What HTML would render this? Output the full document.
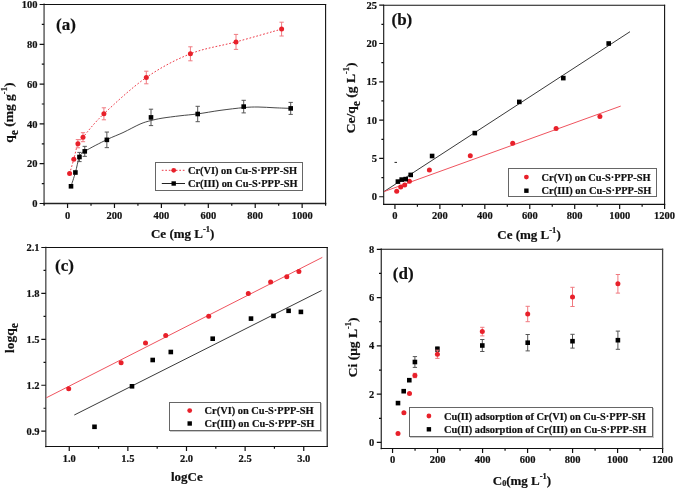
<!DOCTYPE html>
<html><head><meta charset="utf-8"><style>
html,body{margin:0;padding:0;background:#fff;width:675px;height:489px;overflow:hidden}
svg{display:block;will-change:transform}
text{font-family:"Liberation Serif", serif;font-weight:bold;fill:#111;stroke:#111;stroke-width:0.2px}
</style></head><body>
<svg width="675" height="489" viewBox="0 0 675 489">
<rect width="675" height="489" fill="#fff"/>
<path d="M44.1 4.5V203.5" stroke="#7a7a7a" stroke-width="1.8" stroke-linecap="square"/>
<path d="M44.1 203.5H325.6" stroke="#222" stroke-width="1.3" stroke-linecap="square"/>
<path d="M44.1 4.5H325.6" stroke="#111" stroke-width="1.1" stroke-linecap="square"/>
<path d="M325.6 4.5V203.5" stroke="#111" stroke-width="1.1" stroke-linecap="square"/>
<path d="M67.56 203.5v4.5M114.47 203.5v4.5M161.39 203.5v4.5M208.31 203.5v4.5M255.22 203.5v4.5M302.14 203.5v4.5M44.1 203.5h-4.5M44.1 163.7h-4.5M44.1 123.9h-4.5M44.1 84.1h-4.5M44.1 44.3h-4.5M44.1 4.5h-4.5" stroke="#111" stroke-width="1.2"/>
<path d="M44.1 203.5v2.3M91.02 203.5v2.3M137.93 203.5v2.3M184.85 203.5v2.3M231.77 203.5v2.3M278.68 203.5v2.3M325.6 203.5v2.3M44.1 183.6h-2.3M44.1 143.8h-2.3M44.1 104h-2.3M44.1 64.2h-2.3M44.1 24.4h-2.3" stroke="#111" stroke-width="1.2"/>
<text x="67.56" y="218.8" text-anchor="middle" font-size="10.5">0</text>
<text x="114.47" y="218.8" text-anchor="middle" font-size="10.5">200</text>
<text x="161.39" y="218.8" text-anchor="middle" font-size="10.5">400</text>
<text x="208.31" y="218.8" text-anchor="middle" font-size="10.5">600</text>
<text x="255.22" y="218.8" text-anchor="middle" font-size="10.5">800</text>
<text x="302.14" y="218.8" text-anchor="middle" font-size="10.5">1000</text>
<text x="37.5" y="207.1" text-anchor="end" font-size="10.5">0</text>
<text x="37.5" y="167.3" text-anchor="end" font-size="10.5">20</text>
<text x="37.5" y="127.5" text-anchor="end" font-size="10.5">40</text>
<text x="37.5" y="87.7" text-anchor="end" font-size="10.5">60</text>
<text x="37.5" y="47.9" text-anchor="end" font-size="10.5">80</text>
<text x="37.5" y="8.1" text-anchor="end" font-size="10.5">100</text>
<path d="M71 186.3C71.73 184 73.99 177.38 75.4 172.5C76.81 167.62 77.89 160.53 79.45 157C81.01 153.47 80.17 154.25 84.75 151.35C89.33 148.45 100.53 142.72 106.9 139.6C113.28 136.47 117.48 135.18 123 132.6C128.52 130.02 135.37 126.1 140 124.1C144.63 122.1 147.13 121.58 150.8 120.6C154.47 119.62 157.13 119 162 118.2C166.87 117.4 174.05 116.52 180 115.8C185.95 115.08 191.03 114.8 197.7 113.9C204.37 113 212.33 111.45 220 110.4C227.67 109.35 237.37 108.17 243.7 107.6C250.03 107.03 252.78 106.97 258 107C263.22 107.03 269.55 107.57 275 107.8C280.45 108.03 288.08 108.3 290.7 108.4" fill="none" stroke="#333" stroke-width="0.9"/>
<path d="M69.6 173.6C70.3 171.2 72.42 164.18 73.8 159.2C75.18 154.22 76.37 147.37 77.9 143.7C79.43 140.03 78.67 142.18 83 137.2C87.33 132.22 93.35 123.75 103.9 113.8C114.45 103.85 131.88 87.5 146.3 77.5C160.72 67.5 175.45 59.73 190.4 53.8C205.35 47.87 220.8 46.02 236 41.9C251.2 37.78 274 31.23 281.6 29.1" fill="none" stroke="#ee3a48" stroke-width="1" stroke-dasharray="1.7 1.8"/>
<path d="M77.9 139.6V147.8M75.75 139.6H80.05M75.75 147.8H80.05" stroke="#f07a80" stroke-width="1" fill="none"/>
<path d="M83 132.7V141.7M80.85 132.7H85.15M80.85 141.7H85.15" stroke="#f07a80" stroke-width="1" fill="none"/>
<path d="M103.9 107.8V119.8M101.75 107.8H106.05M101.75 119.8H106.05" stroke="#f07a80" stroke-width="1" fill="none"/>
<path d="M146.3 71.2V83.8M144.15 71.2H148.45M144.15 83.8H148.45" stroke="#f07a80" stroke-width="1" fill="none"/>
<path d="M190.4 46.8V60.8M188.25 46.8H192.55M188.25 60.8H192.55" stroke="#f07a80" stroke-width="1" fill="none"/>
<path d="M236 34.4V49.4M233.85 34.4H238.15M233.85 49.4H238.15" stroke="#f07a80" stroke-width="1" fill="none"/>
<path d="M281.6 22.2V36M279.45 22.2H283.75M279.45 36H283.75" stroke="#f07a80" stroke-width="1" fill="none"/>
<path d="M79.45 152.4V161.6M77.3 152.4H81.6M77.3 161.6H81.6" stroke="#555" stroke-width="1" fill="none"/>
<path d="M84.75 146.35V156.35M82.6 146.35H86.9M82.6 156.35H86.9" stroke="#555" stroke-width="1" fill="none"/>
<path d="M106.85 132.05V147.65M104.7 132.05H109M104.7 147.65H109" stroke="#555" stroke-width="1" fill="none"/>
<path d="M151 109.2V125.6M148.85 109.2H153.15M148.85 125.6H153.15" stroke="#555" stroke-width="1" fill="none"/>
<path d="M197.7 106.3V121.7M195.55 106.3H199.85M195.55 121.7H199.85" stroke="#555" stroke-width="1" fill="none"/>
<path d="M243.7 100.3V112.9M241.55 100.3H245.85M241.55 112.9H245.85" stroke="#555" stroke-width="1" fill="none"/>
<path d="M290.7 102.4V114.4M288.55 102.4H292.85M288.55 114.4H292.85" stroke="#555" stroke-width="1" fill="none"/>
<circle cx="69.6" cy="173.6" r="2.5" fill="#e8202a"/>
<circle cx="73.8" cy="159.2" r="2.5" fill="#e8202a"/>
<circle cx="77.9" cy="143.7" r="2.5" fill="#e8202a"/>
<circle cx="83" cy="137.2" r="2.5" fill="#e8202a"/>
<circle cx="103.9" cy="113.8" r="2.5" fill="#e8202a"/>
<circle cx="146.3" cy="77.5" r="2.5" fill="#e8202a"/>
<circle cx="190.4" cy="53.8" r="2.5" fill="#e8202a"/>
<circle cx="236" cy="41.9" r="2.5" fill="#e8202a"/>
<circle cx="281.6" cy="29.1" r="2.5" fill="#e8202a"/>
<rect x="68.7" y="184" width="4.6" height="4.6" fill="#000"/>
<rect x="73.1" y="170.2" width="4.6" height="4.6" fill="#000"/>
<rect x="77.15" y="154.7" width="4.6" height="4.6" fill="#000"/>
<rect x="82.45" y="149.05" width="4.6" height="4.6" fill="#000"/>
<rect x="104.55" y="137.55" width="4.6" height="4.6" fill="#000"/>
<rect x="148.7" y="115.1" width="4.6" height="4.6" fill="#000"/>
<rect x="195.4" y="111.7" width="4.6" height="4.6" fill="#000"/>
<rect x="241.4" y="104.3" width="4.6" height="4.6" fill="#000"/>
<rect x="288.4" y="106.1" width="4.6" height="4.6" fill="#000"/>
<text x="56" y="29.5" font-size="17">(a)</text>
<text x="182.7" y="238" text-anchor="middle" font-size="13">Ce (mg L<tspan dy="-6" font-size="8.5">-1</tspan><tspan dy="6">)</tspan></text>
<text transform="translate(13.3,142.8) rotate(-90)" font-size="13.5">q<tspan dy="4.5" font-size="11.5">e</tspan><tspan dy="-4.5"> (mg g</tspan><tspan dy="-6" font-size="8.5">-1</tspan><tspan dy="6">)</tspan></text>
<rect x="155.5" y="162.5" width="147" height="28" fill="#fff" stroke="#666" stroke-width="1"/>
<line x1="161.8" y1="170.3" x2="185" y2="170.3" stroke="#ee3a48" stroke-width="1" stroke-dasharray="1.7 1.8"/>
<circle cx="173.7" cy="170.3" r="2.4" fill="#e8202a"/>
<text x="187.9" y="173.9" font-size="10.4">Cr(VI) on Cu-S·PPP-SH</text>
<line x1="161.8" y1="183.5" x2="185" y2="183.5" stroke="#222" stroke-width="1"/>
<rect x="171.5" y="181.3" width="4.4" height="4.4" fill="#000"/>
<text x="187.9" y="187.1" font-size="10.4">Cr(III) on Cu-S·PPP-SH</text>
<path d="M383.7 5.2V204.4" stroke="#111" stroke-width="1.1" stroke-linecap="square"/>
<path d="M383.7 204.4H664.6" stroke="#111" stroke-width="1.2" stroke-linecap="square"/>
<path d="M383.7 5.2H664.6" stroke="#111" stroke-width="1.1" stroke-linecap="square"/>
<path d="M664.6 5.2V204.4" stroke="#111" stroke-width="1.1" stroke-linecap="square"/>
<path d="M394.94 204.4v4.5M439.88 204.4v4.5M484.82 204.4v4.5M529.77 204.4v4.5M574.71 204.4v4.5M619.66 204.4v4.5M664.6 204.4v4.5M383.7 196.74h-4.5M383.7 158.43h-4.5M383.7 120.12h-4.5M383.7 81.82h-4.5M383.7 43.51h-4.5M383.7 5.2h-4.5" stroke="#111" stroke-width="1.2"/>
<path d="M417.41 204.4v2.3M462.35 204.4v2.3M507.3 204.4v2.3M552.24 204.4v2.3M597.18 204.4v2.3M642.13 204.4v2.3M383.7 177.58h-2.3M383.7 139.28h-2.3M383.7 100.97h-2.3M383.7 62.66h-2.3M383.7 24.35h-2.3" stroke="#111" stroke-width="1.2"/>
<text x="394.94" y="219.1" text-anchor="middle" font-size="10.5">0</text>
<text x="439.88" y="219.1" text-anchor="middle" font-size="10.5">200</text>
<text x="484.82" y="219.1" text-anchor="middle" font-size="10.5">400</text>
<text x="529.77" y="219.1" text-anchor="middle" font-size="10.5">600</text>
<text x="574.71" y="219.1" text-anchor="middle" font-size="10.5">800</text>
<text x="619.66" y="219.1" text-anchor="middle" font-size="10.5">1000</text>
<text x="664.6" y="219.1" text-anchor="middle" font-size="10.5">1200</text>
<text x="377" y="200.34" text-anchor="end" font-size="10.5">0</text>
<text x="377" y="162.03" text-anchor="end" font-size="10.5">5</text>
<text x="377" y="123.72" text-anchor="end" font-size="10.5">10</text>
<text x="377" y="85.42" text-anchor="end" font-size="10.5">15</text>
<text x="377" y="47.11" text-anchor="end" font-size="10.5">20</text>
<text x="377" y="8.8" text-anchor="end" font-size="10.5">25</text>
<line x1="384" y1="191.6" x2="630" y2="31.7" stroke="#222" stroke-width="0.9"/>
<line x1="384" y1="191.6" x2="620.7" y2="106.1" stroke="#ee4a55" stroke-width="0.95"/>
<circle cx="396.7" cy="191.3" r="2.5" fill="#e8202a"/>
<circle cx="400.7" cy="186.9" r="2.5" fill="#e8202a"/>
<circle cx="404.7" cy="185.1" r="2.5" fill="#e8202a"/>
<circle cx="409.4" cy="181.3" r="2.5" fill="#e8202a"/>
<circle cx="429.4" cy="170.1" r="2.5" fill="#e8202a"/>
<circle cx="470.3" cy="155.7" r="2.5" fill="#e8202a"/>
<circle cx="512.7" cy="143.2" r="2.5" fill="#e8202a"/>
<circle cx="556.1" cy="128.5" r="2.5" fill="#e8202a"/>
<circle cx="599.9" cy="116.5" r="2.5" fill="#e8202a"/>
<rect x="395.6" y="179.3" width="4.6" height="4.6" fill="#000"/>
<rect x="399.4" y="177.3" width="4.6" height="4.6" fill="#000"/>
<rect x="403.4" y="176.8" width="4.6" height="4.6" fill="#000"/>
<rect x="408.4" y="172.6" width="4.6" height="4.6" fill="#000"/>
<rect x="429.8" y="153.7" width="4.6" height="4.6" fill="#000"/>
<rect x="472.5" y="130.8" width="4.6" height="4.6" fill="#000"/>
<rect x="517" y="99.6" width="4.6" height="4.6" fill="#000"/>
<rect x="561" y="75.8" width="4.6" height="4.6" fill="#000"/>
<rect x="606.4" y="41.2" width="4.6" height="4.6" fill="#000"/>
<line x1="394.5" y1="162.4" x2="397" y2="162.4" stroke="#222" stroke-width="1"/>
<text x="391.5" y="24.8" font-size="17">(b)</text>
<text x="529" y="239.3" text-anchor="middle" font-size="13">Ce (mg L<tspan dy="-6" font-size="8.5">-1</tspan><tspan dy="6">)</tspan></text>
<text transform="translate(355.2,133.2) rotate(-90)" font-size="13.5">Ce/q<tspan dy="4.5" font-size="11.5">e</tspan><tspan dy="-4.5"> (g L</tspan><tspan dy="-6" font-size="8.5">-1</tspan><tspan dy="6">)</tspan></text>
<rect x="508.5" y="168.5" width="148" height="28" fill="#fff" stroke="#666" stroke-width="1"/>
<circle cx="526.4" cy="177.1" r="2.4" fill="#e8202a"/>
<text x="541.6" y="180.7" font-size="10.4">Cr(VI) on Cu-S·PPP-SH</text>
<rect x="524.2" y="188.5" width="4.4" height="4.4" fill="#000"/>
<text x="541.6" y="194.3" font-size="10.4">Cr(III) on Cu-S·PPP-SH</text>
<path d="M45.8 247.5V446.5" stroke="#555" stroke-width="1.4" stroke-linecap="square"/>
<path d="M45.8 446.5H327.2" stroke="#111" stroke-width="1.2" stroke-linecap="square"/>
<path d="M45.8 247.5H327.2" stroke="#111" stroke-width="1.1" stroke-linecap="square"/>
<path d="M327.2 247.5V446.5" stroke="#111" stroke-width="1.1" stroke-linecap="square"/>
<path d="M69.25 446.5v4.5M127.87 446.5v4.5M186.5 446.5v4.5M245.12 446.5v4.5M303.75 446.5v4.5M45.8 431.19h-4.5M45.8 385.27h-4.5M45.8 339.35h-4.5M45.8 293.42h-4.5M45.8 247.5h-4.5" stroke="#111" stroke-width="1.2"/>
<path d="M98.56 446.5v2.3M157.19 446.5v2.3M215.81 446.5v2.3M274.44 446.5v2.3M45.8 408.23h-2.3M45.8 362.31h-2.3M45.8 316.38h-2.3M45.8 270.46h-2.3" stroke="#111" stroke-width="1.2"/>
<text x="69.25" y="461.8" text-anchor="middle" font-size="10.5">1.0</text>
<text x="127.87" y="461.8" text-anchor="middle" font-size="10.5">1.5</text>
<text x="186.5" y="461.8" text-anchor="middle" font-size="10.5">2.0</text>
<text x="245.12" y="461.8" text-anchor="middle" font-size="10.5">2.5</text>
<text x="303.75" y="461.8" text-anchor="middle" font-size="10.5">3.0</text>
<text x="39.5" y="434.79" text-anchor="end" font-size="10.5">0.9</text>
<text x="39.5" y="388.87" text-anchor="end" font-size="10.5">1.2</text>
<text x="39.5" y="342.95" text-anchor="end" font-size="10.5">1.5</text>
<text x="39.5" y="297.02" text-anchor="end" font-size="10.5">1.8</text>
<text x="39.5" y="251.1" text-anchor="end" font-size="10.5">2.1</text>
<line x1="46.3" y1="397.8" x2="322.3" y2="257.4" stroke="#ee4a55" stroke-width="0.95"/>
<line x1="74.3" y1="415" x2="321.6" y2="290.5" stroke="#222" stroke-width="0.9"/>
<circle cx="68.7" cy="388.7" r="2.5" fill="#e8202a"/>
<circle cx="121.1" cy="362.7" r="2.5" fill="#e8202a"/>
<circle cx="145.5" cy="343" r="2.5" fill="#e8202a"/>
<circle cx="165.7" cy="335.5" r="2.5" fill="#e8202a"/>
<circle cx="208.7" cy="316.2" r="2.5" fill="#e8202a"/>
<circle cx="248.3" cy="293.4" r="2.5" fill="#e8202a"/>
<circle cx="270.6" cy="282" r="2.5" fill="#e8202a"/>
<circle cx="286.8" cy="276.8" r="2.5" fill="#e8202a"/>
<circle cx="298.9" cy="271.6" r="2.5" fill="#e8202a"/>
<rect x="92.2" y="424.5" width="4.6" height="4.6" fill="#000"/>
<rect x="129.7" y="384" width="4.6" height="4.6" fill="#000"/>
<rect x="150.4" y="357.7" width="4.6" height="4.6" fill="#000"/>
<rect x="168.5" y="349.7" width="4.6" height="4.6" fill="#000"/>
<rect x="210.4" y="336.4" width="4.6" height="4.6" fill="#000"/>
<rect x="248.7" y="316.3" width="4.6" height="4.6" fill="#000"/>
<rect x="271.2" y="313.6" width="4.6" height="4.6" fill="#000"/>
<rect x="286.3" y="308.5" width="4.6" height="4.6" fill="#000"/>
<rect x="298.6" y="309.6" width="4.6" height="4.6" fill="#000"/>
<text x="55" y="270.7" font-size="17">(c)</text>
<text x="186.9" y="481" text-anchor="middle" font-size="13">logCe</text>
<text transform="translate(13.8,353) rotate(-90)" font-size="13.5">logq<tspan dy="4.5" font-size="11.5">e</tspan></text>
<rect x="170.5" y="403.5" width="151" height="28" fill="none" stroke="#c8c8c8" stroke-width="1"/>
<rect x="169.5" y="402.5" width="151" height="28" fill="#fff" stroke="#666" stroke-width="1"/>
<circle cx="189.7" cy="410.6" r="2.4" fill="#e8202a"/>
<text x="204.6" y="414.2" font-size="10.4">Cr(VI) on Cu-S·PPP-SH</text>
<rect x="187.5" y="421.3" width="4.4" height="4.4" fill="#000"/>
<text x="204.6" y="427.1" font-size="10.4">Cr(III) on Cu-S·PPP-SH</text>
<path d="M381.3 249.3V448.5" stroke="#444" stroke-width="1.4" stroke-linecap="square"/>
<path d="M381.3 448.5H662.6" stroke="#111" stroke-width="1.2" stroke-linecap="square"/>
<path d="M381.3 249.3H662.6" stroke="#111" stroke-width="1.1" stroke-linecap="square"/>
<path d="M662.6 249.3V448.5" stroke="#444" stroke-width="1.3" stroke-linecap="square"/>
<path d="M392.55 448.5v4.5M437.56 448.5v4.5M482.57 448.5v4.5M527.58 448.5v4.5M572.58 448.5v4.5M617.59 448.5v4.5M662.6 448.5v4.5M381.3 442.46h-4.5M381.3 394.17h-4.5M381.3 345.88h-4.5M381.3 297.59h-4.5M381.3 249.3h-4.5" stroke="#111" stroke-width="1.2"/>
<path d="M415.06 448.5v2.3M460.06 448.5v2.3M505.07 448.5v2.3M550.08 448.5v2.3M595.09 448.5v2.3M640.1 448.5v2.3M381.3 418.32h-2.3M381.3 370.03h-2.3M381.3 321.74h-2.3M381.3 273.45h-2.3" stroke="#111" stroke-width="1.2"/>
<text x="392.55" y="462.8" text-anchor="middle" font-size="10.5">0</text>
<text x="437.56" y="462.8" text-anchor="middle" font-size="10.5">200</text>
<text x="482.57" y="462.8" text-anchor="middle" font-size="10.5">400</text>
<text x="527.58" y="462.8" text-anchor="middle" font-size="10.5">600</text>
<text x="572.58" y="462.8" text-anchor="middle" font-size="10.5">800</text>
<text x="617.59" y="462.8" text-anchor="middle" font-size="10.5">1000</text>
<text x="662.6" y="462.8" text-anchor="middle" font-size="10.5">1200</text>
<text x="374.3" y="446.06" text-anchor="end" font-size="10.5">0</text>
<text x="374.3" y="397.77" text-anchor="end" font-size="10.5">2</text>
<text x="374.3" y="349.48" text-anchor="end" font-size="10.5">4</text>
<text x="374.3" y="301.19" text-anchor="end" font-size="10.5">6</text>
<text x="374.3" y="252.9" text-anchor="end" font-size="10.5">8</text>
<path d="M414.9 356.6V367.4M412.75 356.6H417.05M412.75 367.4H417.05" stroke="#555" stroke-width="1" fill="none"/>
<path d="M437.4 346.8V351.4M435.25 346.8H439.55M435.25 351.4H439.55" stroke="#555" stroke-width="1" fill="none"/>
<path d="M482.3 339.5V351.5M480.15 339.5H484.45M480.15 351.5H484.45" stroke="#555" stroke-width="1" fill="none"/>
<path d="M527.7 334.5V350.9M525.55 334.5H529.85M525.55 350.9H529.85" stroke="#555" stroke-width="1" fill="none"/>
<path d="M572.5 334.3V348.1M570.35 334.3H574.65M570.35 348.1H574.65" stroke="#555" stroke-width="1" fill="none"/>
<path d="M617.9 331.1V349.3M615.75 331.1H620.05M615.75 349.3H620.05" stroke="#555" stroke-width="1" fill="none"/>
<rect x="395.7" y="400.8" width="4.6" height="4.6" fill="#000"/>
<rect x="401.4" y="388.9" width="4.6" height="4.6" fill="#000"/>
<rect x="407" y="377.9" width="4.6" height="4.6" fill="#000"/>
<rect x="412.6" y="359.7" width="4.6" height="4.6" fill="#000"/>
<rect x="435.1" y="346.8" width="4.6" height="4.6" fill="#000"/>
<rect x="480" y="343.2" width="4.6" height="4.6" fill="#000"/>
<rect x="525.4" y="340.4" width="4.6" height="4.6" fill="#000"/>
<rect x="570.2" y="338.9" width="4.6" height="4.6" fill="#000"/>
<rect x="615.6" y="337.9" width="4.6" height="4.6" fill="#000"/>
<path d="M414.9 373.3V377.7M412.75 373.3H417.05M412.75 377.7H417.05" stroke="#f07a80" stroke-width="1" fill="none"/>
<path d="M437.4 350.2V358.4M435.25 350.2H439.55M435.25 358.4H439.55" stroke="#f07a80" stroke-width="1" fill="none"/>
<path d="M482.3 327.3V335.9M480.15 327.3H484.45M480.15 335.9H484.45" stroke="#f07a80" stroke-width="1" fill="none"/>
<path d="M527.7 306.3V321.7M525.55 306.3H529.85M525.55 321.7H529.85" stroke="#f07a80" stroke-width="1" fill="none"/>
<path d="M572.5 287.3V306.5M570.35 287.3H574.65M570.35 306.5H574.65" stroke="#f07a80" stroke-width="1" fill="none"/>
<path d="M617.9 274.5V293.1M615.75 274.5H620.05M615.75 293.1H620.05" stroke="#f07a80" stroke-width="1" fill="none"/>
<circle cx="398" cy="433.5" r="2.5" fill="#e8202a"/>
<circle cx="403.9" cy="412.8" r="2.5" fill="#e8202a"/>
<circle cx="409.5" cy="393.5" r="2.5" fill="#e8202a"/>
<circle cx="414.9" cy="375.5" r="2.5" fill="#e8202a"/>
<circle cx="437.4" cy="354.3" r="2.5" fill="#e8202a"/>
<circle cx="482.3" cy="331.6" r="2.5" fill="#e8202a"/>
<circle cx="527.7" cy="314" r="2.5" fill="#e8202a"/>
<circle cx="572.5" cy="296.9" r="2.5" fill="#e8202a"/>
<circle cx="617.9" cy="283.8" r="2.5" fill="#e8202a"/>
<text x="392.8" y="278.5" font-size="17">(d)</text>
<text x="522" y="485" text-anchor="middle" font-size="13">C<tspan font-size="8" dy="1">0</tspan><tspan dy="-1">(mg L</tspan><tspan dy="-6" font-size="8.5">-1</tspan><tspan dy="6">)</tspan></text>
<text transform="translate(357.4,377.2) rotate(-90)" font-size="13.5">Ci (μg L<tspan dy="-6" font-size="8.5">-1</tspan><tspan dy="6">)</tspan></text>
<rect x="410.5" y="408.5" width="243" height="29" fill="none" stroke="#c8c8c8" stroke-width="1"/>
<rect x="409.5" y="407.5" width="243" height="29" fill="#fff" stroke="#666" stroke-width="1"/>
<circle cx="428.9" cy="416" r="2.4" fill="#e8202a"/>
<text x="443.9" y="419.6" font-size="10.4">Cu(II) adsorption of Cr(VI) on Cu-S·PPP-SH</text>
<rect x="426.7" y="427.1" width="4.4" height="4.4" fill="#000"/>
<text x="443.9" y="432.9" font-size="10.4">Cu(II) adsorption of Cr(III) on Cu-S·PPP-SH</text>
</svg>
</body></html>
